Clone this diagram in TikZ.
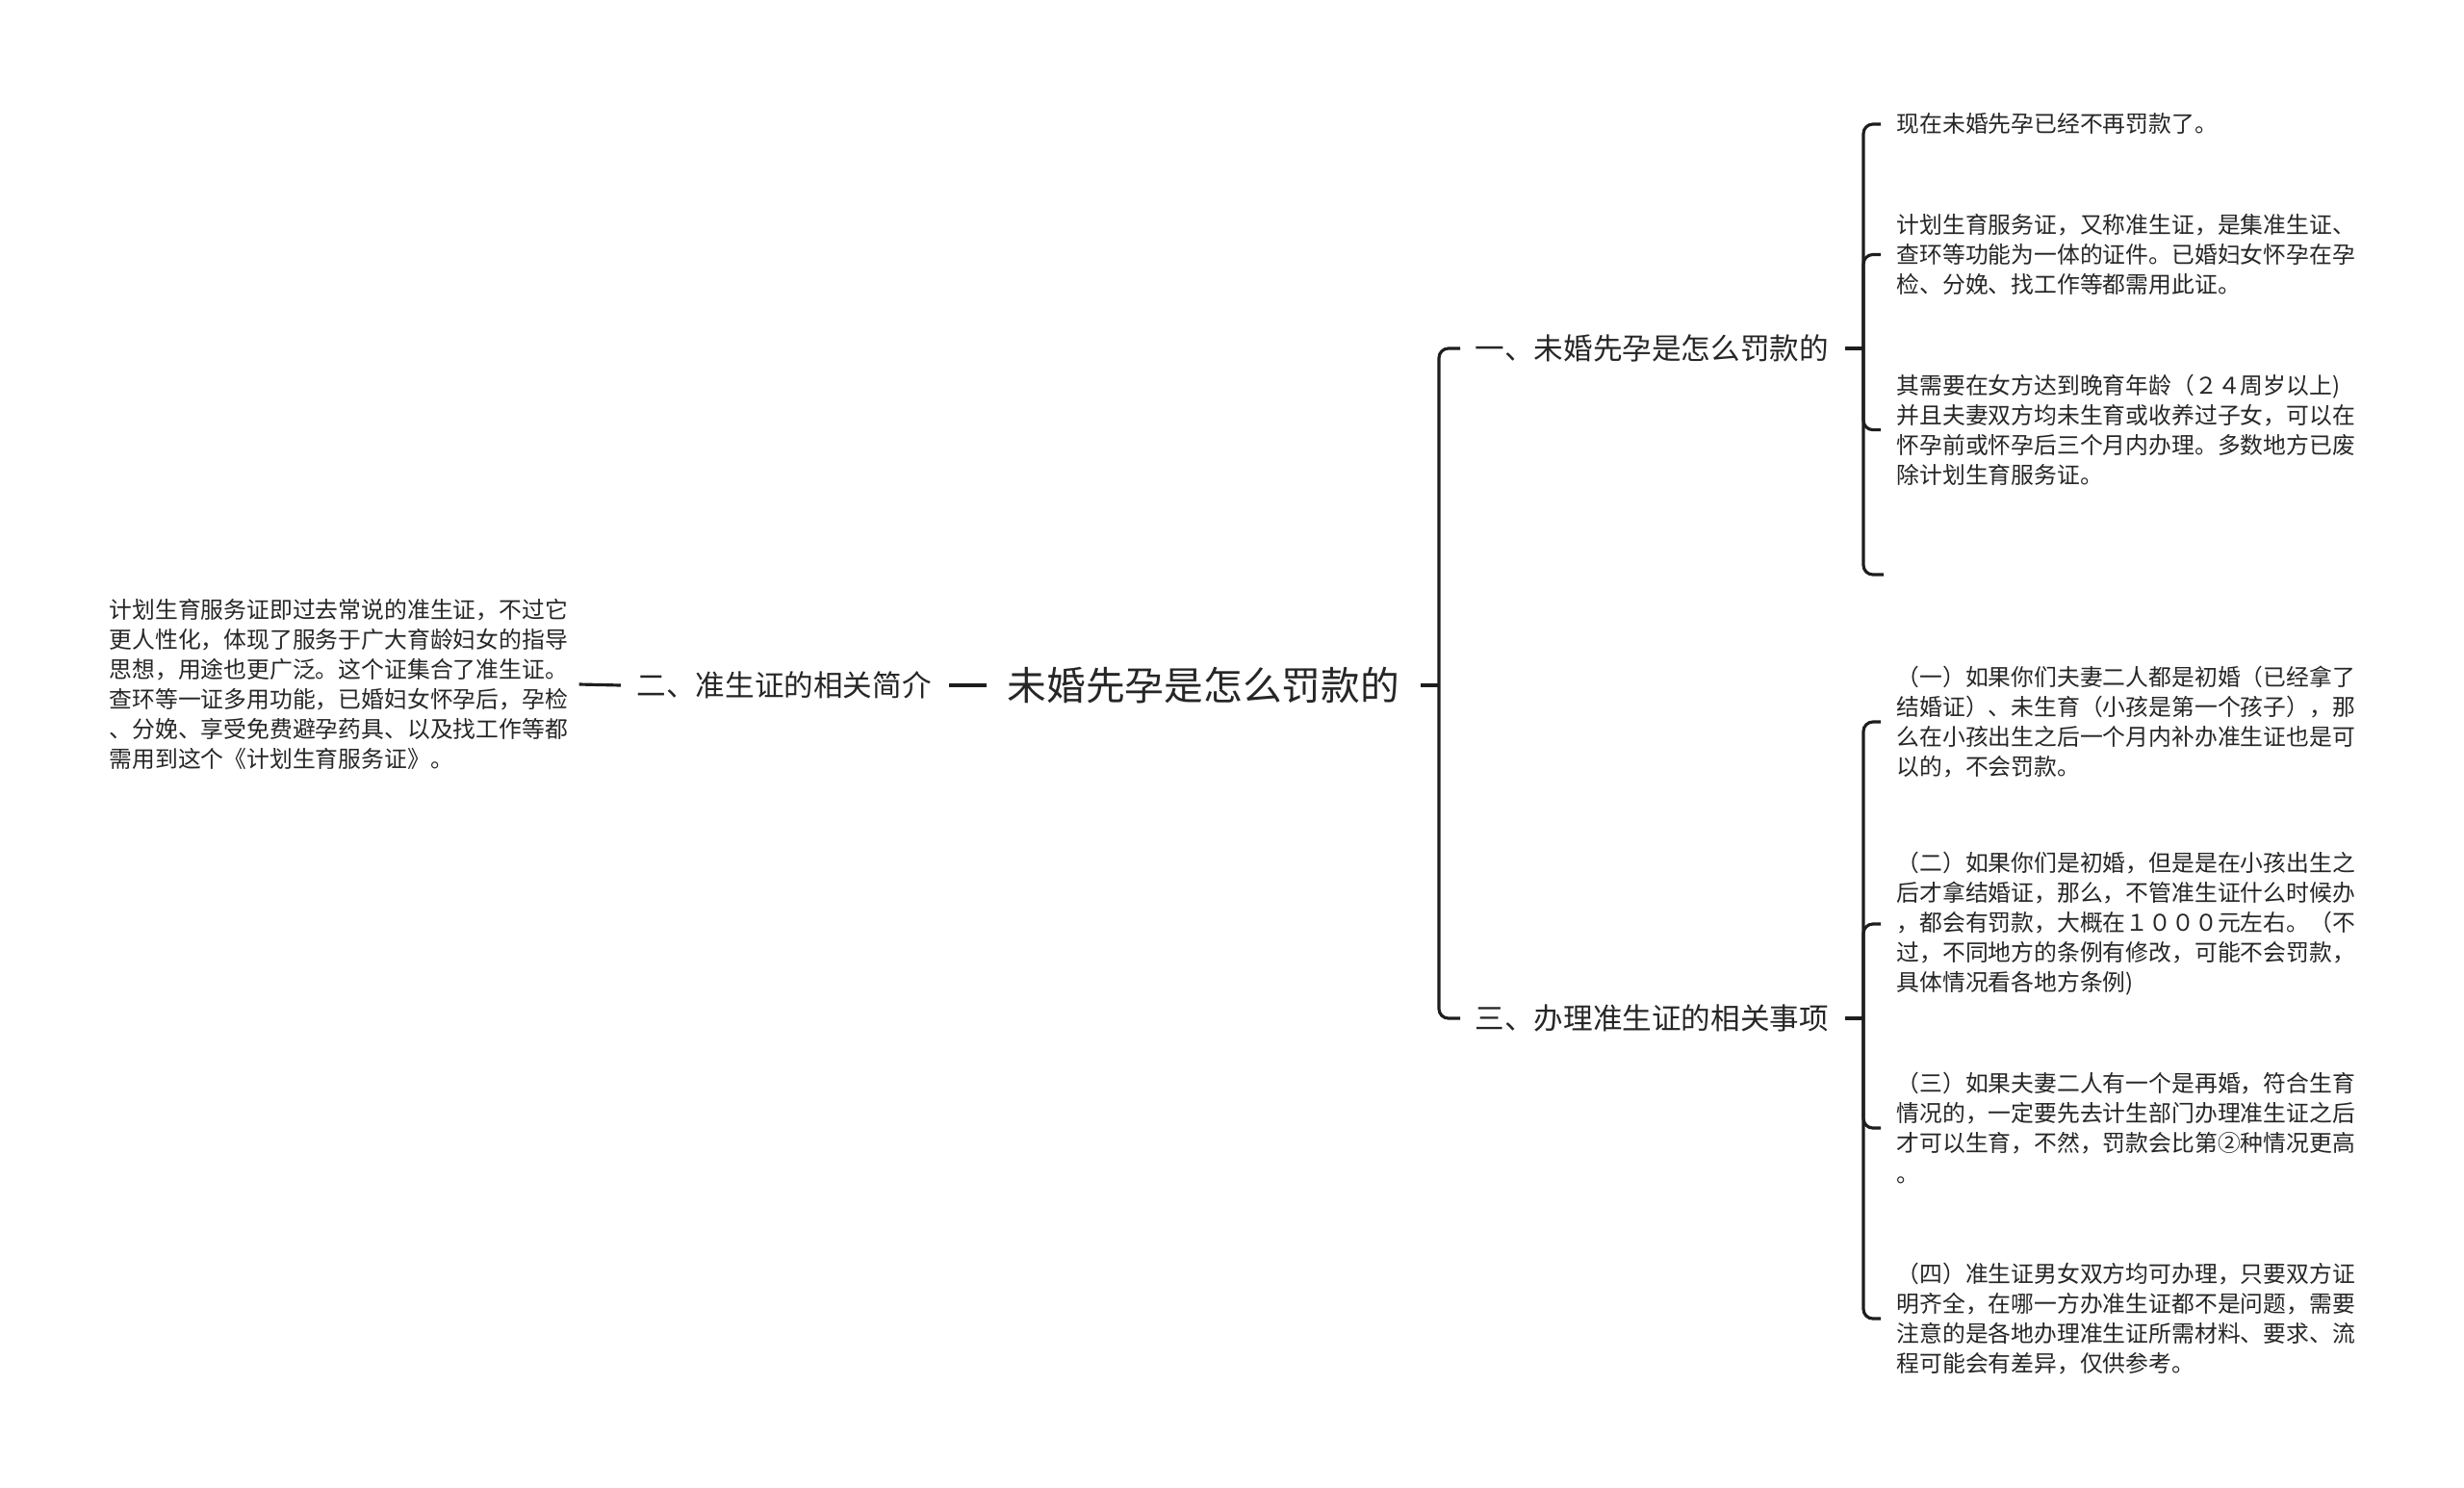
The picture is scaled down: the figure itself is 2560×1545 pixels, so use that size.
\documentclass[tikz,border=0pt]{standalone}
\usepackage{fontspec}
\setmainfont{Noto Sans CJK SC}
\usetikzlibrary{calc}
\definecolor{ink}{HTML}{262626}
\definecolor{wire}{HTML}{1E1E1E}
\begin{document}
\begin{tikzpicture}[x=0.01cm,y=-0.01cm,
  conn/.style={draw=wire,line width=0.9pt,rounded corners=2.8pt},
  rootnode/.style={inner sep=0,anchor=west,text=ink,font=\fontsize{11.58}{14}\selectfont},
  lvone/.style={inner sep=0,anchor=west,text=ink,font=\fontsize{8.7}{11}\selectfont},
  leaf/.style={inner sep=0,anchor=west,text=ink,align=left,font=\fontsize{6.77}{8.82}\selectfont}]
\useasboundingbox (0,0) rectangle (2560,1545);

% nodes
\node[rootnode] (root) at (1046,712) {未婚先孕是怎么罚款的};
\node[lvone] (two) at (661,712) {二、准生证的相关简介};
\node[lvone] (one) at (1532,362) {一、未婚先孕是怎么罚款的};
\node[lvone] (three) at (1532,1058) {三、办理准生证的相关事项};

\node[leaf] (lleaf) at (113,711) {计划生育服务证即过去常说的准生证，不过它\\更人性化，体现了服务于广大育龄妇女的指导\\思想，用途也更广泛。这个证集合了准生证。\\查环等一证多用功能，已婚妇女怀孕后，孕检\\、分娩、享受免费避孕药具、以及找工作等都\\需用到这个《计划生育服务证》。};

\node[leaf] (a1) at (1970,129) {现在未婚先孕已经不再罚款了。};
\node[leaf] (a2) at (1970,264.5) {计划生育服务证，又称准生证，是集准生证、\\查环等功能为一体的证件。已婚妇女怀孕在孕\\检、分娩、找工作等都需用此证。};
\node[leaf] (a3) at (1970,446.6) {其需要在女方达到晚育年龄（２４周岁以上)\\并且夫妻双方均未生育或收养过子女，可以在\\怀孕前或怀孕后三个月内办理。多数地方已废\\除计划生育服务证。};
\coordinate (a4) at (1957,597);

\node[leaf] (c1) at (1970,750) {（一）如果你们夫妻二人都是初婚（已经拿了\\结婚证）、未生育（小孩是第一个孩子），那\\么在小孩出生之后一个月内补办准生证也是可\\以的，不会罚款。};
\node[leaf] (c2) at (1970,960) {（二）如果你们是初婚，但是是在小孩出生之\\后才拿结婚证，那么，不管准生证什么时候办\\，都会有罚款，大概在１０００元左右。（不\\过，不同地方的条例有修改，可能不会罚款，\\具体情况看各地方条例)};
\node[leaf] (c3) at (1970,1172) {（三）如果夫妻二人有一个是再婚，符合生育\\情况的，一定要先去计生部门办理准生证之后\\才可以生育，不然，罚款会比第②种情况更高\\。};
\node[leaf] (c4) at (1970,1370) {（四）准生证男女双方均可办理，只要双方证\\明齐全，在哪一方办准生证都不是问题，需要\\注意的是各地办理准生证所需材料、要求、流\\程可能会有差异，仅供参考。};

% junctions
\coordinate (jr) at (1495,712);
\coordinate (j1) at (1936,362);
\coordinate (j3) at (1936,1058);

% left side
\draw[conn] ($(root.west)+(-21,0)$) -- ($(two.east)+(18,0)$);
\draw[conn] ($(two.west)+(-16,0)$) -- ($(lleaf.east)+(11,0)$);

% root to level one
\draw[conn] ($(root.east)+(21,0)$) -- (jr);
\draw[conn] (jr) |- ($(one.west)+(-15,0)$);
\draw[conn] (jr) |- ($(three.west)+(-15,0)$);

% level one (first) to leaves
\draw[conn] ($(one.east)+(16,0)$) -- (j1);
\draw[conn] (j1) |- ($(a1.west)+(-16,0)$);
\draw[conn] (j1) |- ($(a2.west)+(-16,0)$);
\draw[conn] (j1) |- ($(a3.west)+(-16,0)$);
\draw[conn] (j1) |- (a4);

% level one (third) to leaves
\draw[conn] ($(three.east)+(16,0)$) -- (j3);
\draw[conn] (j3) |- ($(c1.west)+(-16,0)$);
\draw[conn] (j3) |- ($(c2.west)+(-16,0)$);
\draw[conn] (j3) |- ($(c3.west)+(-16,0)$);
\draw[conn] (j3) |- ($(c4.west)+(-16,0)$);
\end{tikzpicture}
\end{document}
